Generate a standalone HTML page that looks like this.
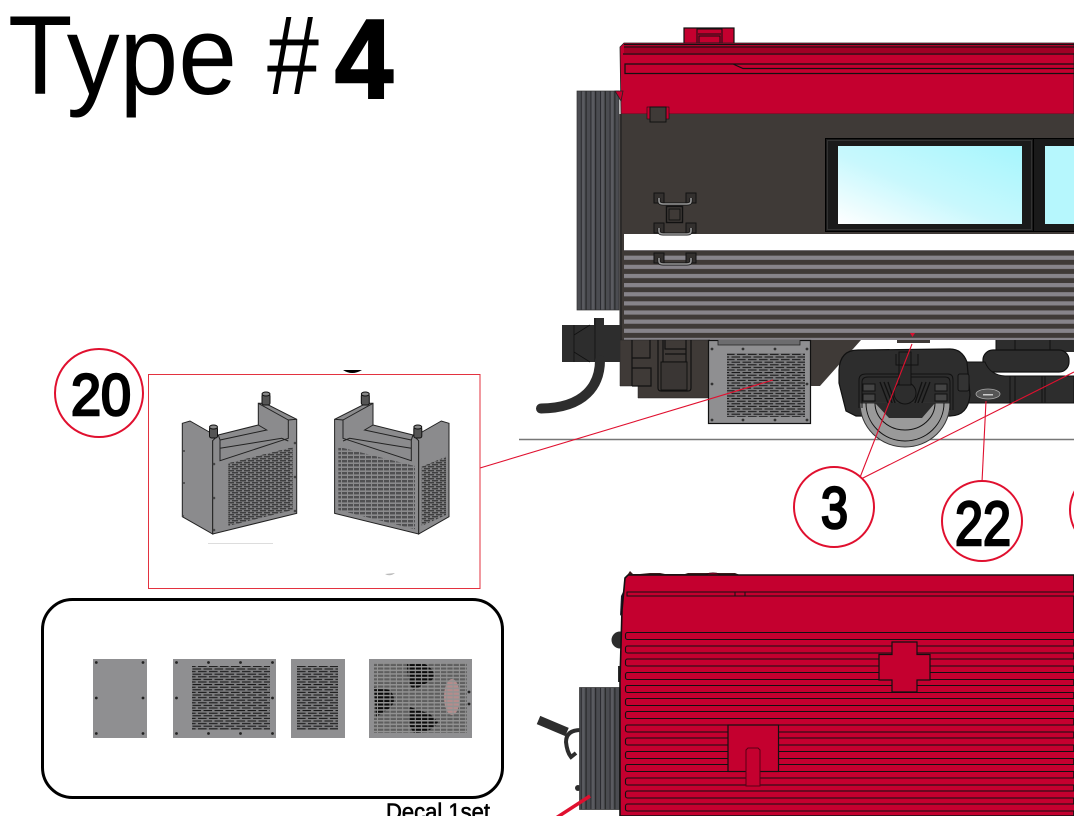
<!DOCTYPE html>
<html><head><meta charset="utf-8"><style>
html,body{margin:0;padding:0;background:#fff;width:1074px;height:816px;overflow:hidden}
svg{display:block}
text{font-family:"Liberation Sans",sans-serif}
</style></head><body>
<svg width="1074" height="816" viewBox="0 0 1074 816" xmlns="http://www.w3.org/2000/svg">
<defs>
<pattern id="perf" width="11" height="5.2" patternUnits="userSpaceOnUse"><rect width="11" height="5.2" fill="#7c7c7e"/><rect x="0" y="0.3" width="8.6" height="1" fill="#111"/><rect x="5.5" y="2.9" width="8.6" height="1" fill="#111"/><rect x="-5.5" y="2.9" width="8.6" height="1" fill="#111"/></pattern>
<pattern id="perf2" width="8" height="4" patternUnits="userSpaceOnUse"><rect width="8" height="4" fill="#808082"/><rect x="0" y="0.3" width="6" height="1" fill="#222"/><rect x="4" y="2.3" width="6" height="1" fill="#222"/><rect x="-4" y="2.3" width="6" height="1" fill="#222"/></pattern>
<pattern id="grid2" width="6" height="4" patternUnits="userSpaceOnUse"><rect width="6" height="4" fill="#8a8a8c"/><rect width="5" height="2.4" fill="#505052"/></pattern>
<pattern id="gridover" width="6.3" height="3.6" patternUnits="userSpaceOnUse"><rect width="6.3" height="1.5" fill="#929292"/><rect x="5.3" width="1" height="3.6" fill="#929292"/></pattern>
<pattern id="bel" width="9.6" height="10" patternUnits="userSpaceOnUse"><rect width="9.6" height="10" fill="#4b4c51"/><rect x="0" width="1" height="10" fill="#222"/><rect x="4.8" width="1" height="10" fill="#2a2a2e"/><rect x="6" width="2.5" height="10" fill="#5a5b60"/></pattern>
<pattern id="stripe" width="10" height="9.13" patternUnits="userSpaceOnUse"><rect width="10" height="9.13" fill="#3f3a37"/><rect width="10" height="4.2" fill="#87848a"/></pattern>
<linearGradient id="glass" x1="1" y1="0" x2="0" y2="1"><stop offset="0" stop-color="#a6f6fd"/><stop offset="0.55" stop-color="#c8f8fd"/><stop offset="1" stop-color="#ffffff"/></linearGradient>
<g id="hdl"><rect x="0" y="0" width="10" height="10" fill="#33302e" stroke="#111"/><rect x="32" y="0" width="10" height="10" fill="#33302e" stroke="#111"/><path d="M5 5 V8 Q5 11 9 11 H33 Q37 11 37 8 V5" fill="none" stroke="#111" stroke-width="3"/><path d="M5 5 V8 Q5 11 9 11 H33 Q37 11 37 8 V5" fill="none" stroke="#999" stroke-width="1.6"/></g>
<g id="shell">
<polygon points="182.3,423.3 190,421 218,437 212.7,440.7 212.7,534 182.3,516.7" fill="#8b8b8d" stroke="#222" stroke-width="1"/>
<polygon points="212.7,440.7 218.3,435 258.3,425 258.3,403.3 265,403.3 296.7,419.3 296.7,513.3 212.7,534" fill="#8b8b8d" stroke="#222" stroke-width="1"/>
<path d="M218.3 435 L220 440 L266.7 430 L258.3 425 M220 440 V460.7 L288.3 438.3 V420 L296.7 419.3 M258.3 403.3 L288.3 420 M220 448.3 L281.7 438.3 L288.3 441" fill="none" stroke="#222" stroke-width="1"/>
<rect x="209.5" y="427" width="8" height="11" rx="2" fill="#555" stroke="#111"/><rect x="262" y="394" width="8" height="11" rx="2" fill="#555" stroke="#111"/>
<ellipse cx="213.5" cy="427" rx="4" ry="2" fill="#888" stroke="#111"/><ellipse cx="266" cy="394" rx="4" ry="2" fill="#888" stroke="#111"/>
</g>
</defs>

<rect width="1074" height="816" fill="#fff"/>

<!-- title -->
<text x="8" y="94" font-size="112" textLength="229" lengthAdjust="spacingAndGlyphs" fill="#000">Type</text>
<text x="267" y="94" font-size="112" textLength="52" lengthAdjust="spacingAndGlyphs" fill="#000">#</text>
<text x="335" y="98" font-size="112" font-weight="700" stroke="#000" stroke-width="2.5" textLength="58" lengthAdjust="spacingAndGlyphs" fill="#000">4</text>

<!-- upper car -->
<rect x="684" y="28" width="50" height="16" fill="#c4002f" stroke="#111" stroke-width="1.2"/>
<path d="M697 44 V29 H722 V44 M698 34 H721 M699 36 H720 V43 H699 Z" fill="none" stroke="#111"/>
<rect x="577" y="91" width="42" height="219" fill="url(#bel)" stroke="#333" stroke-width=".7"/>
<path d="M620 47 L624 43 H1074 V114 H621 Z" fill="#c4002f" stroke="#222" stroke-width=".8"/>
<path d="M624 44.5 H1074 M624 47 H1074 M623 54 H1074" stroke="#111" stroke-width="1.2" fill="none"/>
<rect x="624" y="48" width="450" height="5" fill="#a00025"/>
<path d="M1074 64 H733 L743 68.5 H1074 M733 64 H625 V73.5 H1074" fill="none" stroke="#111" stroke-width="1.2"/>
<path d="M615 91 L623 91 L621 101 Z" fill="#c4002f" stroke="#222" stroke-width=".8"/>
<rect x="621" y="114" width="453" height="120" fill="#3f3a37"/>
<rect x="624" y="234" width="450" height="16" fill="#fff"/>
<rect x="624" y="250" width="450" height="90" fill="url(#stripe)"/>
<rect x="619.5" y="114" width="2.5" height="226" fill="#2c2a29"/>
<rect x="622" y="234" width="2" height="106" fill="#3f3a37"/>
<rect x="647" y="107" width="22" height="12" fill="#c4002f" stroke="#111" stroke-width=".6"/>
<rect x="650" y="107" width="16" height="15" fill="#3f3a37" stroke="#111"/>

<rect x="825.5" y="138.5" width="208" height="93" fill="#1a1a1a" stroke="#000"/>
<rect x="1033.5" y="138.5" width="60" height="93" fill="#1a1a1a" stroke="#000"/>
<rect x="838" y="146" width="184" height="78" fill="url(#glass)"/>
<rect x="1045" y="146" width="40" height="78" fill="#b6f7fd"/>
<rect x="827.5" y="140.5" width="204" height="89" fill="none" stroke="#333"/>

<use href="#hdl" x="654" y="193"/>
<use href="#hdl" x="654" y="223"/>
<use href="#hdl" x="654" y="253"/>
<rect x="666.5" y="206.5" width="16" height="16" fill="none" stroke="#111" stroke-width="1.4"/>
<rect x="669" y="209" width="11" height="11" fill="none" stroke="#111" stroke-width="1"/>

<!-- under body -->
<polygon points="620,340 710,340 710,398 638,398 638,386 620,386" fill="#3f3a37" stroke="#222" stroke-width=".5"/>
<polygon points="810,340 861,340 820,386 810,386" fill="#3f3a37"/>
<path d="M632 340 V386 M632 358 H650 V340 M632 368 H651 V386 H632 M658 340 V388 Q658 391 661 391 H688 Q691 391 691 388 V340 M663 340 V390 M686 340 V390 M662 362 H687 M665 340 V349 H686 M665 354 H686" fill="none" stroke="#111" stroke-width="1.2"/>
<rect x="661" y="362" width="26" height="28" fill="#3a3634" stroke="#111"/>
<path d="M562 325 H594 V318 H604 V325 H620 V362 H562 Z" fill="#2d2d2d"/>
<path d="M574 325 V362 M574 335 L590 325 M574 352 L590 362 M595 318 V362" stroke="#111" fill="none" stroke-width=".8"/>
<path d="M600 360 C600 385 585 408 541 408.5" fill="none" stroke="#2d2d2d" stroke-width="10" stroke-linecap="round"/>

<!-- vent panel -->
<rect x="708.5" y="340.5" width="102" height="83" fill="#8f8f91" stroke="#111" stroke-width="1.2"/>
<path d="M718 340 V345 H800 V340" fill="#6c6c6e" stroke="#222" stroke-width=".8"/>
<rect x="727" y="353" width="78" height="64" fill="url(#perf)"/>
<g fill="#333"><circle cx="712" cy="349" r="1.4"/><circle cx="743" cy="349" r="1.4"/><circle cx="775" cy="349" r="1.4"/><circle cx="807" cy="349" r="1.4"/><circle cx="712" cy="384" r="1.4"/><circle cx="807" cy="384" r="1.4"/><circle cx="712" cy="420" r="1.4"/><circle cx="743" cy="420" r="1.4"/><circle cx="775" cy="420" r="1.4"/><circle cx="807" cy="420" r="1.4"/></g>

<!-- ground -->
<line x1="519" y1="439.5" x2="1074" y2="439.5" stroke="#777" stroke-width="1.5"/>

<!-- bogie -->
<rect x="897" y="340" width="33" height="3" fill="#3f3a37"/>
<rect x="996" y="340" width="78" height="12" fill="#2d2d2d"/>
<path d="M996 340 V350 M1015 340 V350 M1050 340 V350" stroke="#111"/>
<rect x="983" y="350" width="86" height="22" rx="10" fill="#2d2d2d" stroke="#111" stroke-width="1.2"/>
<path d="M967 362 H985 Q990 375 1005 376 H1074 V403 H965 Z" fill="#2d2d2d" stroke="#111"/>
<path d="M1010 376 V403 M1015 376 V403 M1045 376 V403 M1042 376 V403" stroke="#111" fill="none"/>
<path d="M839 370 Q840 350 858 350 L950 349 Q962 349 967 362 L970 395 Q968 416 950 416 H856 L846 411 L839 383 Z" fill="#2d2d2d" stroke="#111" stroke-width="1.2"/>
<path d="M860 403 A45 44 0 0 0 950 403 Z" fill="#9a9a9a" stroke="#333"/>
<path d="M866 403 A39 38 0 0 0 944 403" fill="none" stroke="#111"/>
<path d="M875 403 A30 27 0 0 0 935 403" fill="none" stroke="#111"/>
<path d="M859 408 V380 Q859 374 866 374 H948 Q953 374 953 380 V410 M862 408 V382 Q862 377 868 377 H945 Q950 377 950 382 V410" fill="none" stroke="#111"/>
<rect x="863" y="384" width="12" height="7" fill="#444" stroke="#111"/><rect x="863" y="394" width="12" height="7" fill="#444" stroke="#111"/><rect x="935" y="384" width="12" height="7" fill="#444" stroke="#111"/><rect x="935" y="394" width="12" height="7" fill="#444" stroke="#111"/>
<path d="M880 382 L890 408 M884 382 L894 408 M888 382 L896 406 M930 382 L920 408 M926 382 L916 408 M922 382 L914 406" stroke="#111" stroke-width="1.3"/>
<path d="M875 403 H935 L922 418 H889 Z" fill="#2b2b2b"/>
<circle cx="905" cy="393" r="11" fill="#2d2d2d" stroke="#111"/>
<rect x="899" y="352" width="12" height="33" fill="#2b2b2b" stroke="#111"/>
<path d="M896 354 V365 H918 V354" fill="none" stroke="#111"/>
<rect x="958" y="374" width="11" height="17" rx="2" fill="#333" stroke="#111"/>
<ellipse cx="988" cy="394" rx="12" ry="5" fill="#555" stroke="#aaa" stroke-width=".8"/>
<rect x="983" y="394" width="10" height="1.5" fill="#ccc"/>

<!-- leaders -->
<g stroke="#e0102f" stroke-width="1.1" fill="none">
<line x1="480" y1="468" x2="773" y2="380"/>
<line x1="859" y1="480" x2="912" y2="344"/>
<line x1="859" y1="480" x2="1074" y2="372"/>
<line x1="982" y1="482" x2="986" y2="401"/>
</g>
<path d="M910 333 H915 L912.5 337 Z" fill="#d8102f"/>

<!-- numbered circles -->
<g fill="#fff" stroke="#e0102f" stroke-width="2">
<circle cx="99" cy="393" r="44"/>
<circle cx="834" cy="507" r="40"/>
<circle cx="982" cy="521" r="40"/>
<circle cx="1110" cy="510" r="40"/>
</g>
<g fill="#000" stroke="#000" stroke-width="2.6">
<text x="71" y="415" font-size="58" textLength="60" lengthAdjust="spacingAndGlyphs">20</text>
<text x="821" y="528" font-size="58" textLength="27" lengthAdjust="spacingAndGlyphs">3</text>
<text x="955" y="545" font-size="62" textLength="56" lengthAdjust="spacingAndGlyphs">22</text>
</g>

<!-- detail box -->
<path d="M343 370 Q352 376 362 370 Z" fill="#000"/>
<rect x="148.5" y="374.5" width="331.5" height="214" fill="#fff" stroke="#e3323f" stroke-width="1"/>
<use href="#shell"/>
<polygon points="228.3,463.3 292.7,447.3 292.7,510 228.3,526" fill="url(#perf2)"/>
<use href="#shell" transform="translate(631.3 0) scale(-1 1)"/>
<polygon points="338.3,446.7 415,466 415,529.3 338.3,510" fill="url(#grid2)"/>
<polygon points="421.7,466.7 446,456.7 446,515 421.7,526" fill="url(#perf2)"/>
<g fill="#444"><circle cx="184" cy="451" r="1"/><circle cx="184" cy="483" r="1"/><circle cx="183" cy="516" r="1"/><circle cx="214" cy="464" r="1.3"/><circle cx="214" cy="498" r="1.3"/><circle cx="214" cy="530" r="1.3"/><circle cx="295" cy="443" r="1.3"/><circle cx="295" cy="477" r="1.3"/><circle cx="295" cy="511" r="1.3"/></g>
<path d="M385 574 L395 573 Q390 577 385 574 Z" fill="#bbb"/>
<rect x="208" y="543" width="65" height="1" fill="#ddd"/>

<!-- parts box -->
<rect x="42.5" y="599.5" width="460" height="198" rx="30" fill="#fff" stroke="#000" stroke-width="3"/>
<g fill="#8f8f91">
<rect x="93" y="659" width="54" height="79"/>
<rect x="173" y="659" width="103" height="79"/>
<rect x="291" y="659" width="54" height="79"/>
<rect x="369" y="659" width="103" height="79"/>
</g>
<rect x="192" y="666" width="78" height="64" fill="url(#perf)"/>
<rect x="297" y="666" width="41" height="64" fill="url(#perf)"/>
<rect x="374" y="663" width="93" height="70" fill="#5e5e5e"/>
<ellipse cx="452" cy="697" rx="8" ry="18" fill="#b58c8c"/>
<g fill="#0a0a0a">
<path d="M407 664 H425 Q438 672 432 680 L414 690 Q407 685 407 664Z"/>
<path d="M374 687 L390 690 Q398 700 390 708 L376 717 Z"/>
<path d="M410 707 L430 714 L438 722 Q432 733 414 733 Q405 722 410 707Z"/>
</g>
<rect x="374" y="663" width="93" height="70" fill="url(#gridover)"/>
<g fill="#222">
<circle cx="96.3" cy="662.5" r="1.4"/><circle cx="143" cy="662.5" r="1.4"/><circle cx="96.3" cy="698" r="1.4"/><circle cx="143" cy="698" r="1.4"/><circle cx="96.3" cy="733.5" r="1.4"/><circle cx="143" cy="733.5" r="1.4"/>
<circle cx="176.5" cy="662.5" r="1.4"/><circle cx="208.5" cy="662.5" r="1.4"/><circle cx="240.5" cy="662.5" r="1.4"/><circle cx="272.5" cy="662.5" r="1.4"/>
<circle cx="176.5" cy="698" r="1.4"/><circle cx="272.5" cy="698" r="1.4"/>
<circle cx="176.5" cy="733.5" r="1.4"/><circle cx="208.5" cy="733.5" r="1.4"/><circle cx="240.5" cy="733.5" r="1.4"/><circle cx="272.5" cy="733.5" r="1.4"/>
<circle cx="469" cy="692" r="1.4"/><circle cx="469" cy="704" r="1.4"/>
</g>
<text x="386" y="820" font-size="24" textLength="104" lengthAdjust="spacingAndGlyphs" fill="#000" stroke="#000" stroke-width=".6">Decal 1set</text>

<!-- lower car -->
<path d="M628 574 L630 571 L633 574 H640 L650 573 H660 L665 574 L685 574 L688 573 H735 L740 575 H628Z" fill="#3a1a1a"/>
<ellipse cx="713" cy="577" rx="9" ry="4" fill="#c4002f" stroke="#3a0010"/>
<path d="M621 596 L624 590 L623 612 L620 616Z" fill="#1a1a2a"/>
<circle cx="620" cy="640" r="8.5" fill="#2d2d2d"/>
<rect x="618" y="666" width="4" height="16" fill="#2d2d2d"/>
<path d="M538.5 720 L567 732" stroke="#2d2d2d" stroke-width="9"/>
<path d="M581 730 Q566 730 566 742 Q567 752 571 757 L576 753" fill="none" stroke="#2d2d2d" stroke-width="4"/>
<circle cx="578" cy="788" r="3" fill="#2d2d2d"/>
<rect x="579.5" y="687.5" width="40" height="122" fill="url(#bel)" stroke="#333" stroke-width=".7"/>
<path d="M620 816 V680 L622 610 L625 578 L628 575 H1074 V816 Z" fill="#c4002f" stroke="#111" stroke-width="1.6"/>
<rect x="627" y="592" width="450" height="4" fill="#c4002f" stroke="#111" stroke-width="1"/>
<path d="M735 592 V596 M745 592 V596" stroke="#111"/>
<g fill="#c4002f" stroke="#111" stroke-width="1.1">
<rect x="625.5" y="632.5" width="460" height="7" rx="2"/>
<rect x="625.5" y="646" width="460" height="7" rx="2"/>
<rect x="625.5" y="659" width="460" height="7" rx="2"/>
<rect x="625.5" y="672.5" width="460" height="7" rx="2"/>
<rect x="625.5" y="685.5" width="460" height="7" rx="2"/>
<rect x="625.5" y="698.5" width="460" height="7" rx="2"/>
<rect x="625.5" y="711.5" width="460" height="7" rx="2"/>
<rect x="625.5" y="725" width="460" height="7" rx="2"/>
<rect x="625.5" y="738" width="460" height="7" rx="2"/>
<rect x="625.5" y="751.5" width="460" height="7" rx="2"/>
<rect x="625.5" y="764.5" width="460" height="7" rx="2"/>
<rect x="625.5" y="778" width="460" height="7" rx="2"/>
<rect x="625.5" y="791" width="460" height="7" rx="2"/>
<rect x="625.5" y="804" width="460" height="7" rx="2"/>
</g>
<path d="M892 642 H917 V654.5 H930 V680 H917 V692 H892 V680 H879 V654.5 H892 Z" fill="#c4002f" stroke="#111" stroke-width="1.2"/>
<rect x="728" y="725" width="50.5" height="46.5" fill="#c4002f" stroke="#111" stroke-width="1.2"/>
<path d="M746 786 V750 L748 748 H758 L760 750 V786 Z" fill="#c4002f" stroke="#5a0015" stroke-width="1"/>
<line x1="590" y1="796" x2="556" y2="818" stroke="#e0102f" stroke-width="3.5"/>
</svg>
</body></html>
